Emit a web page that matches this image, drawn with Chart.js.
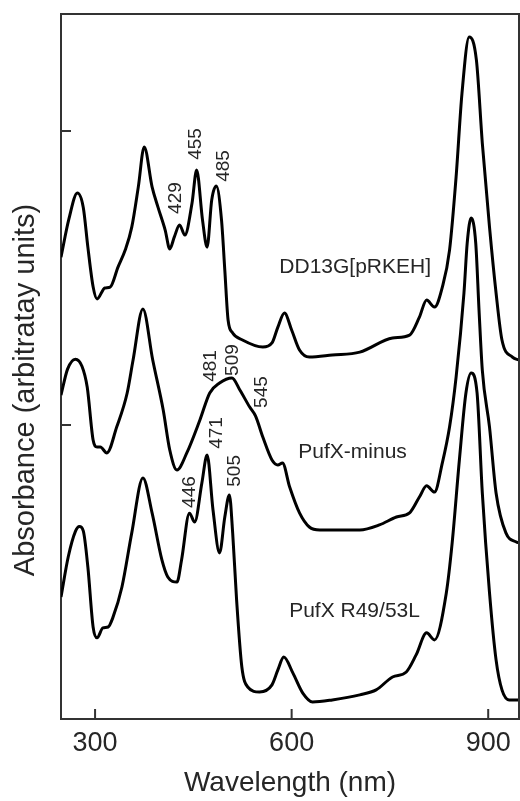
<!DOCTYPE html>
<html lang="en">
<head>
<meta charset="UTF-8">
<title>Absorption spectra</title>
<script src="https://cdn.jsdelivr.net/npm/chart.js"></script>
<style>
  html, body { margin: 0; padding: 0; background: #ffffff; }
  #wrap { width: 520px; height: 801px; }
</style>
</head>
<body>
<div id="wrap"><canvas id="spectra" width="520" height="801"></canvas></div>
<script>
// wavelength (nm) / absorbance (arbitrary units)
const wlDD13G = [248, 260, 273, 282, 289, 297, 303, 315, 323, 335, 346, 356, 366, 375, 387, 396, 407, 414, 421, 429, 437, 448, 455, 464, 471, 478, 485, 493, 498, 503, 510, 525, 556, 570, 579, 589, 600, 612, 627, 662, 704, 754, 780, 795, 806, 818, 830, 841, 851, 860, 871, 882, 891, 902, 912, 921, 937, 947];
const absDD13G = [1.571, 1.70, 1.789, 1.74, 1.605, 1.47, 1.429, 1.466, 1.469, 1.537, 1.595, 1.673, 1.81, 1.946, 1.81, 1.741, 1.663, 1.599, 1.64, 1.68, 1.646, 1.755, 1.867, 1.697, 1.605, 1.765, 1.813, 1.697, 1.527, 1.357, 1.313, 1.289, 1.265, 1.279, 1.333, 1.381, 1.323, 1.255, 1.231, 1.238, 1.248, 1.296, 1.306, 1.367, 1.425, 1.401, 1.469, 1.595, 1.844, 2.129, 2.32, 2.241, 1.959, 1.673, 1.449, 1.289, 1.231, 1.221];

const wlMinus = [248, 258, 270, 280, 288, 297, 303, 308, 318, 333, 349, 358, 373, 388, 404, 414, 425, 440, 460, 475, 490, 509, 521, 536, 545, 556, 570, 579, 586, 597, 612, 627, 643, 704, 734, 760, 780, 795, 806, 818, 830, 841, 851, 863, 868, 874, 881, 886, 891, 902, 912, 927, 943, 947];
const absMinus = [1.102, 1.19, 1.224, 1.20, 1.129, 0.949, 0.925, 0.925, 0.905, 0.993, 1.109, 1.221, 1.395, 1.221, 1.051, 0.915, 0.847, 0.905, 1.017, 1.109, 1.143, 1.16, 1.119, 1.061, 1.03, 0.959, 0.881, 0.864, 0.871, 0.789, 0.701, 0.653, 0.643, 0.643, 0.66, 0.687, 0.701, 0.755, 0.793, 0.772, 0.871, 0.993, 1.163, 1.449, 1.62, 1.704, 1.618, 1.391, 1.187, 0.993, 0.769, 0.633, 0.602, 0.599];

const wlR49 = [248, 259, 270, 276, 282, 289, 297, 303, 312, 320, 327, 341, 356, 373, 387, 402, 411, 425, 432, 444, 452, 463, 471, 480, 490, 498, 505, 510, 516, 524, 533, 551, 570, 579, 588, 602, 617, 632, 662, 704, 729, 754, 775, 790, 806, 818, 836, 845, 856, 866, 874, 883, 891, 902, 912, 921, 932, 947];
const absR49 = [0.415, 0.551, 0.638, 0.655, 0.64, 0.517, 0.313, 0.276, 0.31, 0.313, 0.344, 0.449, 0.633, 0.82, 0.701, 0.541, 0.483, 0.466, 0.541, 0.70, 0.67, 0.803, 0.898, 0.711, 0.565, 0.687, 0.762, 0.633, 0.405, 0.177, 0.109, 0.092, 0.116, 0.167, 0.211, 0.156, 0.088, 0.058, 0.065, 0.082, 0.099, 0.143, 0.160, 0.218, 0.293, 0.269, 0.428, 0.599, 0.881, 1.109, 1.177, 1.109, 0.769, 0.429, 0.201, 0.099, 0.065, 0.065];

const xTicks = [300, 600, 900];
const yTicks = [1, 2];

// text placed on the plot, anchored at [nm, absorbance]
const seriesNames = ['DD13G[pRKEH]', 'PufX-minus', 'PufX R49/53L'];
const nameSpots = [[697, 1.537], [693, 0.908], [696, 0.367]];
const peakLabels = ['429', '455', '485', '481', '509', '545', '446', '471', '505'];
const peakSpots = [[423, 1.772], [454, 1.956], [496, 1.881], [477, 1.201], [510, 1.221], [554, 1.112], [445, 0.772], [486, 0.973], [513, 0.844]];

const FONT = '"Liberation Sans", Arial, sans-serif';
const INK = '#262626';

function toPoints(xs, ys) {
    return xs.map((v, i) => ({ x: v, y: ys[i] }));
}

// frame, inward tick marks, y title and in-plot labels
const decorations = {
    id: 'decorations',
    afterDraw(chart) {
        const { ctx, chartArea: a, scales: { x, y } } = chart;
        ctx.save();
        ctx.strokeStyle = '#333';
        ctx.lineWidth = 2;
        ctx.beginPath();
        ctx.moveTo(a.left, a.top);
        ctx.lineTo(a.right, a.top);
        ctx.lineTo(a.right, a.bottom);
        xTicks.forEach(v => {
            const px = x.getPixelForValue(v);
            ctx.moveTo(px, a.bottom);
            ctx.lineTo(px, a.bottom - 10);
        });
        yTicks.forEach(v => {
            const py = y.getPixelForValue(v);
            ctx.moveTo(a.left, py);
            ctx.lineTo(a.left + 10, py);
        });
        ctx.stroke();

        ctx.fillStyle = INK;
        ctx.textAlign = 'center';
        ctx.textBaseline = 'middle';

        ctx.font = '29px ' + FONT;
        ctx.save();
        ctx.translate(26, 390);
        ctx.rotate(-Math.PI / 2);
        ctx.fillText('Absorbance (arbitratay units)', 0, 0);
        ctx.restore();

        ctx.font = '21px ' + FONT;
        seriesNames.forEach((t, i) => {
            ctx.fillText(t, x.getPixelForValue(nameSpots[i][0]), y.getPixelForValue(nameSpots[i][1]));
        });

        ctx.font = '19px ' + FONT;
        peakLabels.forEach((t, i) => {
            ctx.save();
            ctx.translate(x.getPixelForValue(peakSpots[i][0]), y.getPixelForValue(peakSpots[i][1]));
            ctx.rotate(-Math.PI / 2);
            ctx.fillText(t, 0, 0);
            ctx.restore();
        });
        ctx.restore();
    }
};

const lineStyle = {
    borderColor: '#000',
    borderWidth: 3,
    pointRadius: 0,
    fill: false,
    cubicInterpolationMode: 'monotone'
};

new Chart(document.getElementById('spectra').getContext('2d'), {
    type: 'line',
    data: {
        datasets: [
            { label: seriesNames[0], data: toPoints(wlDD13G, absDD13G), ...lineStyle },
            { label: seriesNames[1], data: toPoints(wlMinus, absMinus), ...lineStyle },
            { label: seriesNames[2], data: toPoints(wlR49, absR49), ...lineStyle }
        ]
    },
    options: {
        responsive: false,
        devicePixelRatio: 1,
        animation: false,
        layout: { padding: { top: 14, right: 1, left: 0, bottom: 0 } },
        plugins: {
            legend: { display: false },
            tooltip: { enabled: false }
        },
        scales: {
            x: {
                type: 'linear',
                min: 248,
                max: 947,
                afterBuildTicks: s => { s.ticks = xTicks.map(v => ({ value: v })); },
                afterFit: s => { s.height = 82; },
                grid: { display: false, drawTicks: false },
                border: { display: true, color: '#333', width: 2 },
                ticks: {
                    font: { family: FONT, size: 27 },
                    color: INK,
                    padding: 8,
                    maxRotation: 0
                },
                title: {
                    display: true,
                    text: 'Wavelength (nm)',
                    font: { family: FONT, size: 28 },
                    color: INK,
                    padding: { top: 0, bottom: 1 }
                }
            },
            y: {
                type: 'linear',
                min: 0,
                max: 2.398,
                afterFit: s => { s.width = 61; },
                grid: { display: false, drawTicks: false },
                border: { display: true, color: '#333', width: 2 },
                ticks: { display: false }
            }
        }
    },
    plugins: [decorations]
});
</script>
</body>
</html>
